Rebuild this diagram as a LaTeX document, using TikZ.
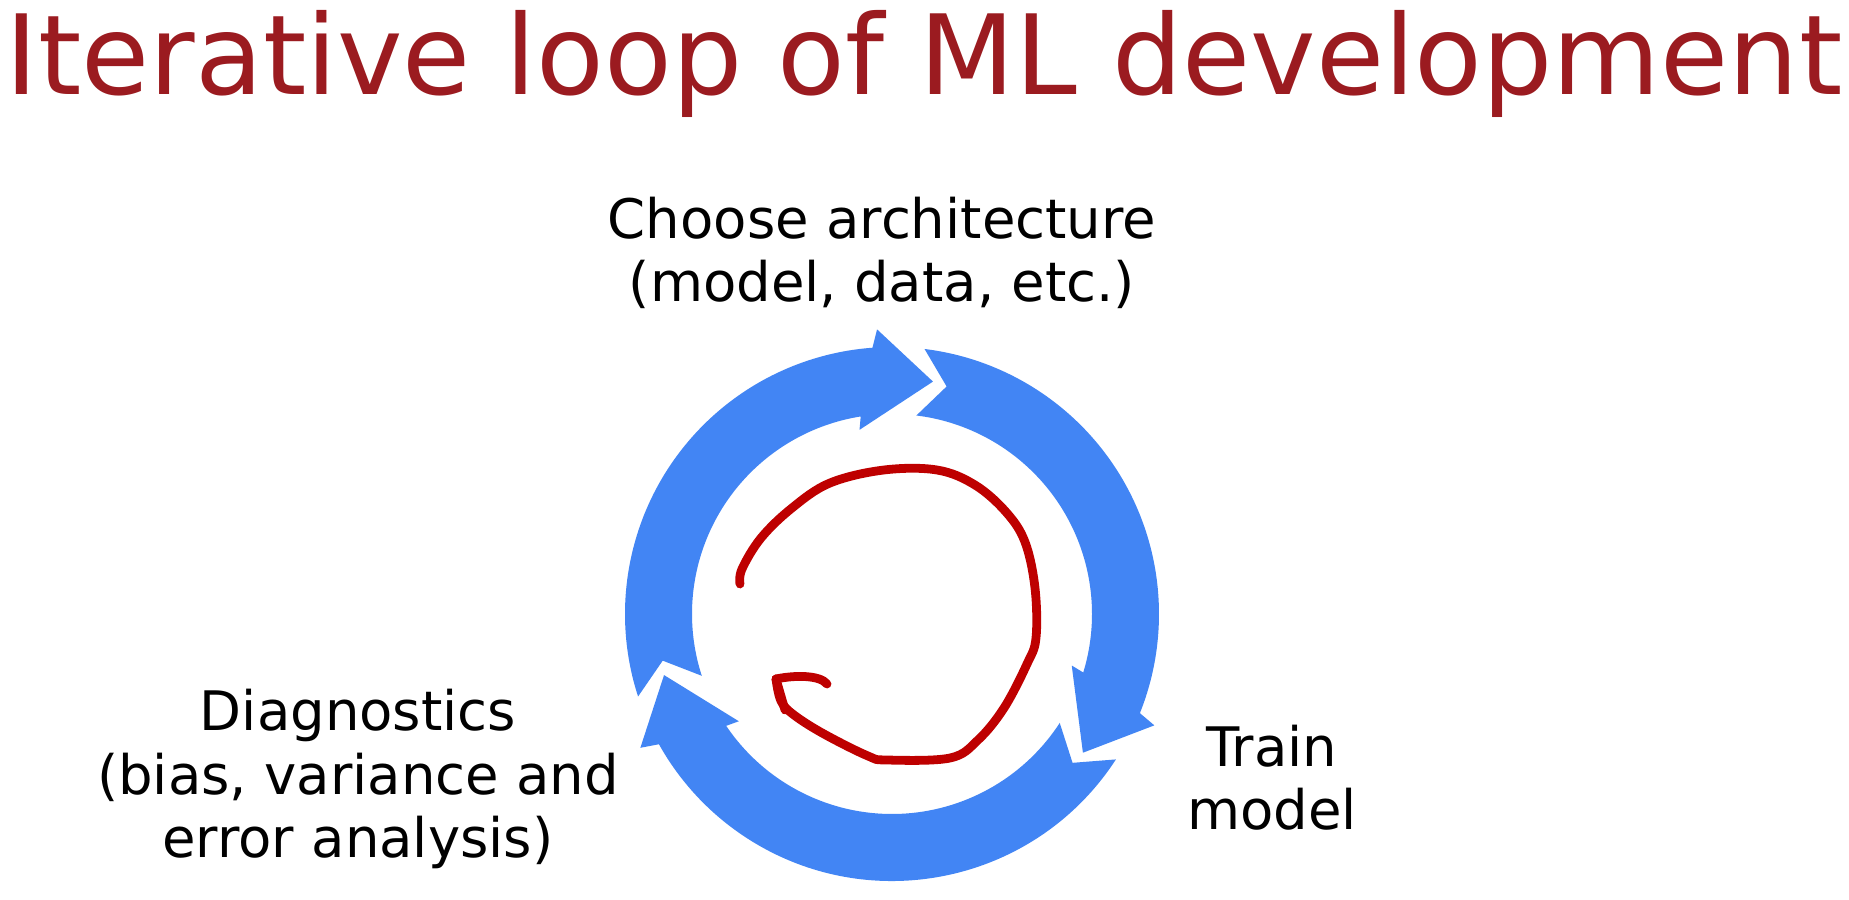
\documentclass[tikz,border=0pt]{standalone}
\usepackage{fontspec}
\setmainfont{DejaVu Sans}
\usepackage{xcolor}
\usepackage{tikz}
\usetikzlibrary{arrows.meta,positioning,calc}
\definecolor{titlered}{RGB}{155,27,32}
\definecolor{ringblue}{RGB}{66,133,244}
\definecolor{penred}{RGB}{190,0,0}
\tikzset{
	titletext/.style={font=\fontsize{31.5}{37}\selectfont, text=titlered, inner sep=0pt},
	steplabel/.style={align=center, inner sep=0pt, font=\fontsize{15.5}{18.2}\selectfont},
	ringarrow/.style={fill=ringblue},
	penline/.style={draw=penred, line width=2.5pt, line cap=round, line join=round}
}

\begin{document}
\begin{tikzpicture}
	\useasboundingbox[fill=white] (0,0) rectangle (18.49,9.00);
	
	\node[titletext, anchor=base] (title) at (9.24,8.05) {Iterative loop of ML development};
	
	% labels, placed by the baseline of their last line
	\node[steplabel, anchor=base] (arch) at (8.82,5.98) {Choose architecture\\(model, data, etc.)};
	\node[steplabel, anchor=base] (train) at (12.72,0.70) {Train\\model};
	\node[steplabel, anchor=base] (diag) at (3.58,0.42) {Diagnostics\\(bias, variance and\\error analysis)};
	
	% the three blue arrows of the ring
	\begin{scope}[shift={(8.92,2.86)}]
		\fill[ringarrow] (83:2.67) arc[start angle=83, end angle=-21.8, radius=2.67] -- (-23:2.85) -- (-36:2.36) -- (-16:1.87) -- (-17:2.00) arc[start angle=-17, end angle=83, radius=2.00] -- (76.5:2.34) -- cycle;
		\fill[ringarrow] (-33:2.67) arc[start angle=-33, end angle=-150.8, radius=2.67] -- (-152:2.85) -- (-165:2.36) -- (-145:1.87) -- (-146:2.00) arc[start angle=-146, end angle=-33, radius=2.00] -- (-39.5:2.34) -- cycle;
		\fill[ringarrow] (198:2.67) arc[start angle=198, end angle=94.2, radius=2.67] -- (93:2.85) -- (80:2.36) -- (100:1.87) -- (99:2.00) arc[start angle=99, end angle=198, radius=2.00] -- (191.5:2.34) -- cycle;
	\end{scope}
	
	% hand drawn loop
	\draw[penline] plot[smooth, tension=0.6] coordinates {(7.40,3.16) (7.42,3.31) (7.61,3.62) (7.92,3.92) (8.30,4.17) (8.84,4.30) (9.37,4.30) (9.75,4.15) (10.06,3.88) (10.25,3.58) (10.35,3.12) (10.36,2.62) (10.27,2.36) (10.04,1.92) (9.78,1.60) (9.50,1.42) (8.87,1.40) (8.68,1.44) (8.24,1.66) (7.94,1.85) (7.81,1.99) (7.76,2.21)};
	\draw[penline] (7.76,2.21) .. controls (7.95,2.25) and (8.20,2.25) .. (8.27,2.16);
	\draw[penline] (7.76,2.21) -- (7.85,1.90);
\end{tikzpicture}
\end{document}
